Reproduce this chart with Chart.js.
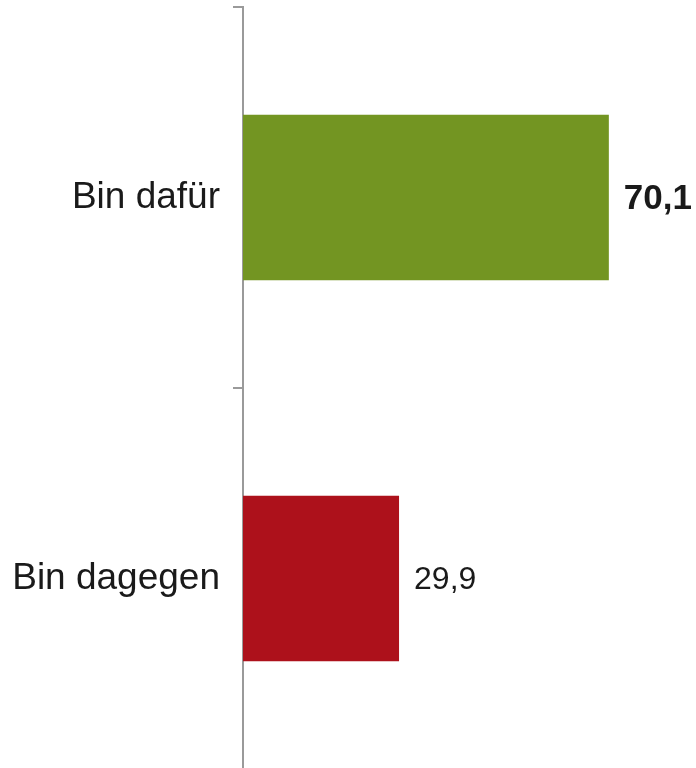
<!DOCTYPE html>
<html lang="de">
<head>
    <meta charset="UTF-8">
    <title>Bin dafür / Bin dagegen</title>
    <script src="https://cdn.jsdelivr.net/npm/chart.js"></script>
    <style>
        html, body { margin: 0; padding: 0; background: #fff; overflow: hidden; }
        #wrap { position: relative; width: 696px; height: 770px; }
    </style>
</head>
<body>
    <div id="wrap"><canvas id="chart"></canvas></div>

    <script>
        // Daten
        const categories = ['Bin dafür', 'Bin dagegen'];
        const values = [70.1, 29.9];
        const valueLabels = ['70,1', '29,9'];
        const barColors = ['#739522', '#ad111b'];
        const labelBold = [true, false];

        // Werte neben die Balken schreiben
        const valueLabelPlugin = {
            id: 'valueLabels',
            afterDatasetsDraw(chart) {
                const ctx = chart.ctx;
                const meta = chart.getDatasetMeta(0);
                ctx.save();
                ctx.fillStyle = '#1a1a1a';
                ctx.textAlign = 'left';
                ctx.textBaseline = 'middle';
                meta.data.forEach((bar, i) => {
                    ctx.font = labelBold[i]
                        ? 'bold 35px "Liberation Sans", Arial, sans-serif'
                        : '32px "Liberation Sans", Arial, sans-serif';
                    ctx.fillText(valueLabels[i], bar.x + 15, bar.y + 2);
                });
                ctx.restore();
            }
        };

        new Chart(document.getElementById('chart'), {
            type: 'bar',
            data: {
                labels: categories,
                datasets: [{
                    data: values,
                    backgroundColor: barColors,
                    borderWidth: 0,
                    categoryPercentage: 1,
                    barPercentage: 0.435
                }]
            },
            options: {
                indexAxis: 'y',
                responsive: true,
                maintainAspectRatio: false,
                animation: false,
                layout: { padding: { top: 7, right: 0, bottom: 1, left: 0 } },
                plugins: {
                    legend: { display: false },
                    tooltip: { enabled: false }
                },
                scales: {
                    x: {
                        display: false,
                        min: 0,
                        max: 86.8
                    },
                    y: {
                        afterFit(axis) {
                            axis.width = 243;
                            axis.paddingTop = 0;
                            axis.paddingBottom = 0;
                        },
                        border: { display: true, color: '#9a9a9a', width: 2 },
                        grid: {
                            drawOnChartArea: false,
                            offset: true,
                            tickLength: 10,
                            color: '#9a9a9a',
                            lineWidth: 2
                        },
                        ticks: {
                            padding: 13,
                            color: '#1a1a1a',
                            font: { family: '"Liberation Sans", Arial, sans-serif', size: 37 }
                        }
                    }
                }
            },
            plugins: [valueLabelPlugin]
        });
    </script>
</body>
</html>
